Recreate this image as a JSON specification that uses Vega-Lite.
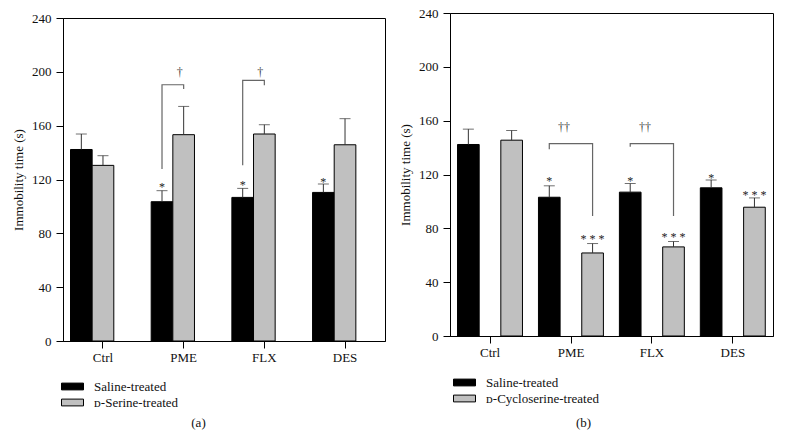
{
  "$schema": "https://vega.github.io/schema/vega-lite/v6.json",
  "padding": {"left": 12, "top": 5, "right": 5, "bottom": 5},
  "background": "white",
  "datasets": {
    "barsA": [
      {"group": "Ctrl", "treatment": "Saline-treated", "mean": 142.3, "upper": 153.8},
      {"group": "Ctrl", "treatment": "ᴅ-Serine-treated", "mean": 130.5, "upper": 137.7},
      {"group": "PME", "treatment": "Saline-treated", "mean": 103.5, "upper": 111.7},
      {"group": "PME", "treatment": "ᴅ-Serine-treated", "mean": 153.3, "upper": 174.3},
      {"group": "FLX", "treatment": "Saline-treated", "mean": 106.7, "upper": 113.4},
      {"group": "FLX", "treatment": "ᴅ-Serine-treated", "mean": 153.8, "upper": 160.7},
      {"group": "DES", "treatment": "Saline-treated", "mean": 110.4, "upper": 116.6},
      {"group": "DES", "treatment": "ᴅ-Serine-treated", "mean": 145.8, "upper": 165.2}
    ],
    "barsB": [
      {"group": "Ctrl", "treatment": "Saline-treated", "mean": 142.3, "upper": 153.7},
      {"group": "Ctrl", "treatment": "ᴅ-Cycloserine-treated", "mean": 145.5, "upper": 152.7},
      {"group": "PME", "treatment": "Saline-treated", "mean": 103.1, "upper": 111.6},
      {"group": "PME", "treatment": "ᴅ-Cycloserine-treated", "mean": 61.7, "upper": 68.7},
      {"group": "FLX", "treatment": "Saline-treated", "mean": 106.9, "upper": 113.3},
      {"group": "FLX", "treatment": "ᴅ-Cycloserine-treated", "mean": 66.2, "upper": 70.2},
      {"group": "DES", "treatment": "Saline-treated", "mean": 110.1, "upper": 116.0},
      {"group": "DES", "treatment": "ᴅ-Cycloserine-treated", "mean": 95.7, "upper": 102.6}
    ],
    "starsA": [
      {"group": "PME", "treatment": "Saline-treated", "y": 117, "label": "*"},
      {"group": "FLX", "treatment": "Saline-treated", "y": 118.3, "label": "*"},
      {"group": "DES", "treatment": "Saline-treated", "y": 120.5, "label": "*"}
    ],
    "starsB": [
      {"group": "PME", "treatment": "Saline-treated", "y": 117.7, "label": "*"},
      {"group": "FLX", "treatment": "Saline-treated", "y": 117.7, "label": "*"},
      {"group": "DES", "treatment": "Saline-treated", "y": 120, "label": "*"},
      {"group": "PME", "treatment": "ᴅ-Cycloserine-treated", "y": 74.4, "label": "* * *"},
      {"group": "FLX", "treatment": "ᴅ-Cycloserine-treated", "y": 75.6, "label": "* * *"},
      {"group": "DES", "treatment": "ᴅ-Cycloserine-treated", "y": 106.9, "label": "* * *"}
    ],
    "daggersA": [
      {"group": "PME", "y": 199.6, "label": "†"},
      {"group": "FLX", "y": 199.6, "label": "†"}
    ],
    "daggersB": [
      {"group": "PME", "y": 155, "label": "††"},
      {"group": "FLX", "y": 155, "label": "††"}
    ],
    "bracketsA": [
      {"bracket": "PME", "group": "PME", "treatment": "Saline-treated", "ord": 1, "y": 127.8},
      {"bracket": "PME", "group": "PME", "treatment": "Saline-treated", "ord": 2, "y": 190.4},
      {"bracket": "PME", "group": "PME", "treatment": "ᴅ-Serine-treated", "ord": 3, "y": 190.4},
      {"bracket": "PME", "group": "PME", "treatment": "ᴅ-Serine-treated", "ord": 4, "y": 187.2},
      {"bracket": "FLX", "group": "FLX", "treatment": "Saline-treated", "ord": 1, "y": 130.5},
      {"bracket": "FLX", "group": "FLX", "treatment": "Saline-treated", "ord": 2, "y": 193.6},
      {"bracket": "FLX", "group": "FLX", "treatment": "ᴅ-Serine-treated", "ord": 3, "y": 193.6},
      {"bracket": "FLX", "group": "FLX", "treatment": "ᴅ-Serine-treated", "ord": 4, "y": 190}
    ],
    "bracketsB": [
      {"bracket": "PME", "group": "PME", "treatment": "Saline-treated", "ord": 1, "y": 138.8},
      {"bracket": "PME", "group": "PME", "treatment": "Saline-treated", "ord": 2, "y": 143},
      {"bracket": "PME", "group": "PME", "treatment": "ᴅ-Cycloserine-treated", "ord": 3, "y": 143},
      {"bracket": "PME", "group": "PME", "treatment": "ᴅ-Cycloserine-treated", "ord": 4, "y": 89.2},
      {"bracket": "FLX", "group": "FLX", "treatment": "Saline-treated", "ord": 1, "y": 140.6},
      {"bracket": "FLX", "group": "FLX", "treatment": "Saline-treated", "ord": 2, "y": 143},
      {"bracket": "FLX", "group": "FLX", "treatment": "ᴅ-Cycloserine-treated", "ord": 3, "y": 143},
      {"bracket": "FLX", "group": "FLX", "treatment": "ᴅ-Cycloserine-treated", "ord": 4, "y": 89.2}
    ],
    "spacer": []
  },
  "config": {
    "font": "Liberation Serif",
    "view": {"stroke": "#000", "strokeWidth": 1},
    "axis": {
      "domainColor": "#000", "tickColor": "#000", "labelColor": "#111", "titleColor": "#111",
      "labelFont": "Liberation Serif", "titleFont": "Liberation Serif", "titleFontWeight": "normal",
      "grid": false, "labelFontSize": 13, "titleFontSize": 13
    },
    "legend": {
      "orient": "none", "direction": "vertical", "padding": 0,
      "symbolType": "M-2.75,-0.85H2.75V0.85H-2.75Z", "symbolSize": 64,
      "symbolStrokeColor": "#000", "symbolStrokeWidth": 1,
      "labelOffset": 15, "labelFontSize": 13, "labelFont": "Liberation Serif", "labelColor": "#111",
      "rowPadding": 2, "labelLimit": 300
    },
    "concat": {"spacing": 13}
  },
  "resolve": {"scale": {"fill": "independent"}, "legend": {"fill": "independent"}},
  "hconcat": [
    {
      "spacing": 5,
      "vconcat": [
        {
          "width": 1, "height": 1,
          "view": {"stroke": null},
          "data": {"name": "spacer"},
          "mark": {"type": "point", "opacity": 0},
          "encoding": {}
        },
        {
          "width": 322, "height": 323,
          "layer": [
            {
              "data": {"name": "barsA"},
              "mark": {"type": "bar", "stroke": "#000", "strokeWidth": 1},
              "encoding": {
                "x": {"field": "group", "type": "nominal", "sort": ["Ctrl", "PME", "FLX", "DES"],
                      "scale": {"type": "band", "paddingInner": 0.195, "paddingOuter": 0.093},
                      "axis": {"labelAngle": 0, "tickSize": 7, "labelPadding": 3, "title": "(a)", "titleX": 135, "titleY": 81, "titleBaseline": "middle", "titleFontSize": 13, "titleAnchor": "middle"}},
                "xOffset": {"field": "treatment", "type": "nominal", "sort": ["Saline-treated", "ᴅ-Serine-treated"], "scale": {"type": "band", "paddingInner": 0, "paddingOuter": 0}},
                "y": {"field": "mean", "type": "quantitative", "scale": {"domain": [0, 240]},
                      "axis": {"values": [0, 40, 80, 120, 160, 200, 240], "title": "Immobility time (s)", "titlePadding": 6, "tickSize": 7, "labelPadding": 5}},
                "fill": {"field": "treatment", "type": "nominal", "sort": ["Saline-treated", "ᴅ-Serine-treated"],
                         "scale": {"domain": ["Saline-treated", "ᴅ-Serine-treated"], "range": ["#000000", "#c0c0c0"]},
                         "legend": {"title": null, "legendX": 3, "legendY": 375}}
              }
            },
            {
              "data": {"name": "barsA"},
              "mark": {"type": "rule", "color": "#333", "strokeWidth": 1},
              "encoding": {
                "x": {"field": "group", "type": "nominal", "sort": ["Ctrl", "PME", "FLX", "DES"], "scale": {"type": "band", "paddingInner": 0.195, "paddingOuter": 0.093}},
                "xOffset": {"field": "treatment", "type": "nominal", "sort": ["Saline-treated", "ᴅ-Serine-treated"], "scale": {"type": "band", "paddingInner": 0, "paddingOuter": 0}},
                "y": {"field": "mean", "type": "quantitative"},
                "y2": {"field": "upper"}
              }
            },
            {
              "data": {"name": "barsA"},
              "mark": {"type": "tick", "color": "#333", "thickness": 1, "size": 11, "orient": "horizontal"},
              "encoding": {
                "x": {"field": "group", "type": "nominal", "sort": ["Ctrl", "PME", "FLX", "DES"], "scale": {"type": "band", "paddingInner": 0.195, "paddingOuter": 0.093}},
                "xOffset": {"field": "treatment", "type": "nominal", "sort": ["Saline-treated", "ᴅ-Serine-treated"], "scale": {"type": "band", "paddingInner": 0, "paddingOuter": 0}},
                "y": {"field": "upper", "type": "quantitative"}
              }
            },
            {
              "data": {"name": "bracketsA"},
              "mark": {"type": "line", "color": "#666", "strokeWidth": 1.2},
              "encoding": {
                "x": {"field": "group", "type": "nominal", "sort": ["Ctrl", "PME", "FLX", "DES"], "scale": {"type": "band", "paddingInner": 0.195, "paddingOuter": 0.093}},
                "xOffset": {"field": "treatment", "type": "nominal", "sort": ["Saline-treated", "ᴅ-Serine-treated"], "scale": {"type": "band", "paddingInner": 0, "paddingOuter": 0}},
                "y": {"field": "y", "type": "quantitative"},
                "detail": {"field": "bracket"},
                "order": {"field": "ord", "type": "quantitative"}
              }
            },
            {
              "data": {"name": "starsA"},
              "mark": {"type": "text", "color": "#222", "fontSize": 12, "baseline": "middle", "dy": 3},
              "encoding": {
                "x": {"field": "group", "type": "nominal", "sort": ["Ctrl", "PME", "FLX", "DES"], "scale": {"type": "band", "paddingInner": 0.195, "paddingOuter": 0.093}},
                "xOffset": {"field": "treatment", "type": "nominal", "sort": ["Saline-treated", "ᴅ-Serine-treated"], "scale": {"type": "band", "paddingInner": 0, "paddingOuter": 0}},
                "y": {"field": "y", "type": "quantitative"},
                "text": {"field": "label"}
              }
            },
            {
              "data": {"name": "daggersA"},
              "mark": {"type": "text", "color": "#444", "fontSize": 12, "baseline": "middle", "dx": -4},
              "encoding": {
                "x": {"field": "group", "type": "nominal", "sort": ["Ctrl", "PME", "FLX", "DES"], "scale": {"type": "band", "paddingInner": 0.195, "paddingOuter": 0.093}},
                "y": {"field": "y", "type": "quantitative"},
                "text": {"field": "label"}
              }
            }
          ]
        }
      ]
    },
    {
      "spacing": 0,
      "vconcat": [
        {
          "width": 1, "height": 1,
          "view": {"stroke": null},
          "data": {"name": "spacer"},
          "mark": {"type": "point", "opacity": 0},
          "encoding": {}
        },
        {
          "width": 323, "height": 323,
          "layer": [
            {
              "data": {"name": "barsB"},
              "mark": {"type": "bar", "stroke": "#000", "strokeWidth": 1},
              "encoding": {
                "x": {"field": "group", "type": "nominal", "sort": ["Ctrl", "PME", "FLX", "DES"],
                      "scale": {"type": "band", "paddingInner": 0.195, "paddingOuter": 0.093},
                      "axis": {"labelAngle": 0, "tickSize": 7, "labelPadding": 3, "title": "(b)", "titleX": 133, "titleY": 86, "titleBaseline": "middle", "titleFontSize": 13, "titleAnchor": "middle"}},
                "xOffset": {"field": "treatment", "type": "nominal", "sort": ["Saline-treated", "ᴅ-Cycloserine-treated"], "scale": {"type": "band", "paddingInner": 0, "paddingOuter": 0}},
                "y": {"field": "mean", "type": "quantitative", "scale": {"domain": [0, 240]},
                      "axis": {"values": [0, 40, 80, 120, 160, 200, 240], "title": "Immobility time (s)", "titlePadding": 6, "tickSize": 7, "labelPadding": 5}},
                "fill": {"field": "treatment", "type": "nominal", "sort": ["Saline-treated", "ᴅ-Cycloserine-treated"],
                         "scale": {"domain": ["Saline-treated", "ᴅ-Cycloserine-treated"], "range": ["#000000", "#c0c0c0"]},
                         "legend": {"title": null, "legendX": 8, "legendY": 371}}
              }
            },
            {
              "data": {"name": "barsB"},
              "mark": {"type": "rule", "color": "#333", "strokeWidth": 1},
              "encoding": {
                "x": {"field": "group", "type": "nominal", "sort": ["Ctrl", "PME", "FLX", "DES"], "scale": {"type": "band", "paddingInner": 0.195, "paddingOuter": 0.093}},
                "xOffset": {"field": "treatment", "type": "nominal", "sort": ["Saline-treated", "ᴅ-Cycloserine-treated"], "scale": {"type": "band", "paddingInner": 0, "paddingOuter": 0}},
                "y": {"field": "mean", "type": "quantitative"},
                "y2": {"field": "upper"}
              }
            },
            {
              "data": {"name": "barsB"},
              "mark": {"type": "tick", "color": "#333", "thickness": 1, "size": 11, "orient": "horizontal"},
              "encoding": {
                "x": {"field": "group", "type": "nominal", "sort": ["Ctrl", "PME", "FLX", "DES"], "scale": {"type": "band", "paddingInner": 0.195, "paddingOuter": 0.093}},
                "xOffset": {"field": "treatment", "type": "nominal", "sort": ["Saline-treated", "ᴅ-Cycloserine-treated"], "scale": {"type": "band", "paddingInner": 0, "paddingOuter": 0}},
                "y": {"field": "upper", "type": "quantitative"}
              }
            },
            {
              "data": {"name": "bracketsB"},
              "mark": {"type": "line", "color": "#666", "strokeWidth": 1.2},
              "encoding": {
                "x": {"field": "group", "type": "nominal", "sort": ["Ctrl", "PME", "FLX", "DES"], "scale": {"type": "band", "paddingInner": 0.195, "paddingOuter": 0.093}},
                "xOffset": {"field": "treatment", "type": "nominal", "sort": ["Saline-treated", "ᴅ-Cycloserine-treated"], "scale": {"type": "band", "paddingInner": 0, "paddingOuter": 0}},
                "y": {"field": "y", "type": "quantitative"},
                "detail": {"field": "bracket"},
                "order": {"field": "ord", "type": "quantitative"}
              }
            },
            {
              "data": {"name": "starsB"},
              "mark": {"type": "text", "color": "#222", "fontSize": 12, "baseline": "middle", "dy": 3},
              "encoding": {
                "x": {"field": "group", "type": "nominal", "sort": ["Ctrl", "PME", "FLX", "DES"], "scale": {"type": "band", "paddingInner": 0.195, "paddingOuter": 0.093}},
                "xOffset": {"field": "treatment", "type": "nominal", "sort": ["Saline-treated", "ᴅ-Cycloserine-treated"], "scale": {"type": "band", "paddingInner": 0, "paddingOuter": 0}},
                "y": {"field": "y", "type": "quantitative"},
                "text": {"field": "label"}
              }
            },
            {
              "data": {"name": "daggersB"},
              "mark": {"type": "text", "color": "#444", "fontSize": 12, "baseline": "middle", "dx": -7},
              "encoding": {
                "x": {"field": "group", "type": "nominal", "sort": ["Ctrl", "PME", "FLX", "DES"], "scale": {"type": "band", "paddingInner": 0.195, "paddingOuter": 0.093}},
                "y": {"field": "y", "type": "quantitative"},
                "text": {"field": "label"}
              }
            }
          ]
        }
      ]
    }
  ]
}
